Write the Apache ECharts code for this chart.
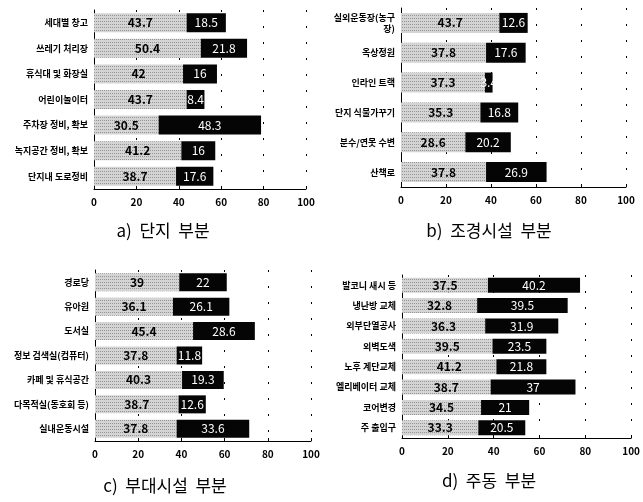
<!DOCTYPE html>
<html>
<head>
<meta charset="utf-8">
<script src="https://cdn.jsdelivr.net/npm/echarts@6/dist/echarts.min.js"></script>
<style>html,body{margin:0;padding:0;background:#fff;}#c{width:643px;height:502px;}</style>
</head>
<body>
<div id="c"></div>
<script>
// ---- data ----
const catsA = ['세대별 창고', '쓰레기 처리장', '휴식대 및 화장실', '어린이놀이터', '주차장 정비, 확보', '녹지공간 정비, 확보', '단지내 도로정비'];
const greyA = [43.7, 50.4, 42, 43.7, 30.5, 41.2, 38.7];
const blackA = [18.5, 21.8, 16, 8.4, 48.3, 16, 17.6];

const catsB = ['실외운동장(농구\n장)', '옥상정원', '인라인 트랙', '단지 식물가꾸기', '분수/연못 수변', '산책로'];
const greyB = [43.7, 37.8, 37.3, 35.3, 28.6, 37.8];
const blackB = [12.6, 17.6, 3.4, 16.8, 20.2, 26.9];

const catsC = ['경로당', '유아원', '도서실', '정보 검색실(컴퓨터)', '카페 및 휴식공간', '다목적실(동호회 등)', '실내운동시설'];
const greyC = [39, 36.1, 45.4, 37.8, 40.3, 38.7, 37.8];
const blackC = [22, 26.1, 28.6, 11.8, 19.3, 12.6, 33.6];

const catsD = ['발코니 새시 등', '냉난방 교체', '외부단열공사', '외벽도색', '노후 계단교체', '엘리베이터 교체', '코어변경', '주 출입구'];
const greyD = [37.5, 32.8, 36.3, 39.5, 41.2, 38.7, 34.5, 33.3];
const blackD = [40.2, 39.5, 31.9, 23.5, 21.8, 37, 21, 20.5];

const xTicks = [0, 20, 40, 60, 80, 100];
const captions = ['a)  단지  부분', 'b)  조경시설  부분', 'c)  부대시설  부분', 'd)  주동  부분'];

// ---- chart ----
const FONT = '"Noto Sans CJK KR", "Noto Sans", sans-serif';
const panels = [
  {cats: catsA, grey: greyA, black: blackA, grid: {left: 94, top: 10, width: 212, height: 179}, bw: 19, cap: [163, 231]},
  {cats: catsB, grey: greyB, black: blackB, grid: {left: 401, top: 8, width: 225, height: 179}, bw: 20, cap: [489, 231]},
  {cats: catsC, grey: greyC, black: blackC, grid: {left: 95, top: 270, width: 216, height: 171}, bw: 18, cap: [165, 486]},
  {cats: catsD, grey: greyD, black: blackD, grid: {left: 402, top: 275, width: 231, height: 163}, bw: 15, cap: [489, 481]}
];

const grid = [], xAxis = [], yAxis = [], series = [], graphic = [];
panels.forEach((p, i) => {
  grid.push(Object.assign({containLabel: false}, p.grid));
  xAxis.push({
    type: 'value', gridIndex: i, min: 0, max: 100, interval: 20,
    axisLine: {show: true, lineStyle: {color: '#000', width: 1}},
    axisTick: {show: true, inside: true, length: 3, lineStyle: {color: '#000'}},
    axisLabel: {color: '#000', fontSize: 10, fontWeight: 'bold', fontFamily: FONT, margin: 8,
      formatter: v => xTicks.includes(v) ? String(v) : ''},
    splitLine: {show: true, lineStyle: {color: '#000', width: 1, type: [2, 14]}}
  });
  yAxis.push({
    type: 'category', gridIndex: i, data: p.cats, inverse: true,
    axisLine: {show: true, lineStyle: {color: '#000', width: 1}},
    axisTick: {show: false},
    axisLabel: {color: '#000', fontSize: 9, fontWeight: 'bold', fontFamily: FONT, margin: 6, lineHeight: 11}
  });
  series.push({
    type: 'bar', xAxisIndex: i, yAxisIndex: i, stack: 's' + i, data: p.grey, barWidth: p.bw,
    itemStyle: {color: '#d4d4d4', decal: {symbol: 'rect', symbolSize: 1, color: 'rgba(70,70,70,0.45)', dashArrayX: [1, 1], dashArrayY: [1, 2], rotation: 0}},
    label: {show: true, position: 'inside', color: '#000', fontSize: 12, fontWeight: 'bold', fontFamily: FONT}
  });
  series.push({
    type: 'bar', xAxisIndex: i, yAxisIndex: i, stack: 's' + i, data: p.black, barWidth: p.bw,
    itemStyle: {color: '#050505'},
    label: {show: true, position: 'inside', color: '#fff', fontSize: 12, fontFamily: FONT}
  });
  graphic.push({
    type: 'text', x: p.cap[0], y: p.cap[1],
    style: {text: captions[i], fill: '#000', font: '17px ' + FONT, textAlign: 'center', textVerticalAlign: 'middle'}
  });
});

const chart = echarts.init(document.getElementById('c'), null, {renderer: 'canvas'});
chart.setOption({animation: false, backgroundColor: '#fff', grid, xAxis, yAxis, series, graphic});
</script>
</body>
</html>
